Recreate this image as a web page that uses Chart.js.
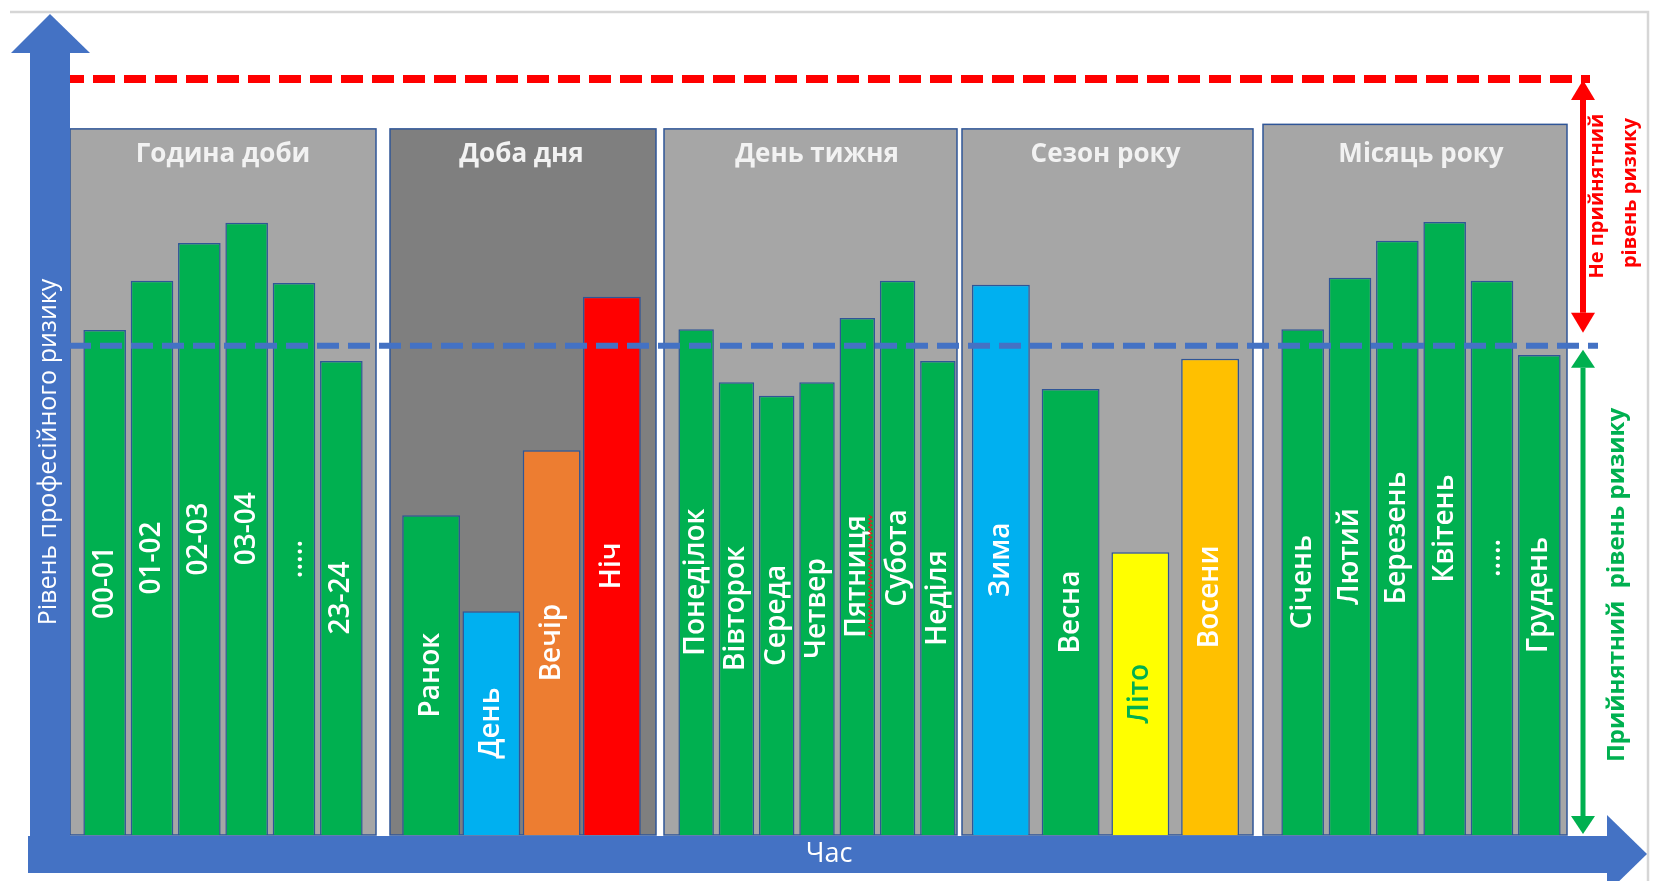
<!DOCTYPE html>
<html lang="uk">
<head>
<meta charset="utf-8">
<title>Рівень професійного ризику</title>
<script src="https://cdn.jsdelivr.net/npm/chart.js@4.4.1/dist/chart.umd.min.js"></script>
<style>
  html, body { margin: 0; padding: 0; background: #fff; }
  canvas { display: block; }
</style>
</head>
<body>
<canvas id="risk-chart" width="1653" height="881"></canvas>
<script>
// Categories, one list per panel
const hourLabels = ['00-01', '01-02', '02-03', '03-04', '.....', '23-24'];
const dayPartLabels = ['Ранок', 'День', 'Вечір', 'Ніч'];
const weekdayLabels = ['Понеділок', 'Вівторок', 'Середа', 'Четвер', 'Пятниця', 'Субота', 'Неділя'];
const seasonLabels = ['Зима', 'Весна', 'Літо', 'Восени'];
const monthLabels = ['Січень', 'Лютий', 'Березень', 'Квітень', '.....', 'Грудень'];

// Risk level for each category
const hourValues = [66.8, 73.3, 78.3, 81.0, 73.0, 62.7];
const dayPartValues = [42.3, 29.6, 50.9, 71.2];
const weekdayValues = [66.9, 59.9, 58.1, 59.9, 68.4, 73.3, 62.7];
const seasonValues = [72.8, 59.0, 37.4, 63.0];
const monthValues = [66.9, 73.7, 78.6, 81.1, 73.3, 63.5];

const panelTitles = ['Година доби', 'Доба дня', 'День тижня', 'Сезон року', 'Місяць року'];
const panelTops = [93.4, 93.4, 93.4, 93.4, 94.0];

// Thresholds
const acceptableLevel = 64.7;
const unacceptableLevel = 100;

// ---- styles ----
const GREEN = '#00B050';
const BLUE = '#4472C4';
const EDGE = '#2F5597';
const FONT = '"Open Sans", "Noto Sans", sans-serif';

const dayPartColors = [GREEN, '#00B0F0', '#ED7D31', '#FF0000'];
const seasonColors = ['#00B0F0', GREEN, '#FFFF00', '#FFC000'];
const seasonTextColors = ['#fff', '#fff', GREEN, '#fff'];

// frame = grey panel, band = where the category axis of that panel lives
const panels = [
  { id: 'x0', labels: hourLabels, values: hourValues, colors: GREEN, fill: '#A6A6A6', frame: [70, 376], band: [81, 365], barPct: 0.9 },
  { id: 'x1', labels: dayPartLabels, values: dayPartValues, colors: dayPartColors, fill: '#7F7F7F', frame: [390, 656], band: [401, 642], barPct: 0.96 },
  { id: 'x2', labels: weekdayLabels, values: weekdayValues, colors: GREEN, fill: '#A6A6A6', frame: [664, 957], band: [676, 958], barPct: 0.88, misspelt: 4 },
  { id: 'x3', labels: seasonLabels, values: seasonValues, colors: seasonColors, textColors: seasonTextColors, fill: '#A6A6A6', frame: [962, 1253], band: [966, 1245], barPct: 0.83 },
  { id: 'x4', labels: monthLabels, values: monthValues, colors: GREEN, fill: '#A6A6A6', frame: [1263, 1567], band: [1279, 1563], barPct: 0.9 },
];

function rotatedText(ctx, text, x, y, font, color) {
  ctx.save();
  ctx.translate(x, y);
  ctx.rotate(-Math.PI / 2);
  ctx.font = font;
  ctx.fillStyle = color;
  ctx.textAlign = 'center';
  ctx.textBaseline = 'middle';
  ctx.fillText(text, 0, 0);
  const w = ctx.measureText(text).width;
  ctx.restore();
  return w;
}

// red spell-check wave along a vertical caption
function squiggle(ctx, x, yFrom, yTo) {
  ctx.save();
  ctx.strokeStyle = '#E02020';
  ctx.lineWidth = 1.2;
  ctx.beginPath();
  let k = 0;
  for (let yy = yFrom; yy <= yTo; yy += 2, k++) {
    const xx = x + (k % 2 ? 1.5 : -1.5);
    if (k === 0) ctx.moveTo(xx, yy); else ctx.lineTo(xx, yy);
  }
  ctx.stroke();
  ctx.restore();
}

function dashedLine(ctx, x1, x2, y, color, width) {
  ctx.save();
  ctx.strokeStyle = color;
  ctx.lineWidth = width;
  ctx.setLineDash([22, 9]);
  ctx.beginPath();
  ctx.moveTo(x1, y);
  ctx.lineTo(x2, y);
  ctx.stroke();
  ctx.restore();
}

function doubleArrow(ctx, x, y1, y2, color, width, half, len) {
  ctx.save();
  ctx.strokeStyle = color;
  ctx.fillStyle = color;
  ctx.lineWidth = width;
  ctx.beginPath();
  ctx.moveTo(x, y1 + len);
  ctx.lineTo(x, y2 - len);
  ctx.stroke();
  ctx.beginPath();
  ctx.moveTo(x, y1);
  ctx.lineTo(x - half, y1 + len);
  ctx.lineTo(x + half, y1 + len);
  ctx.closePath();
  ctx.fill();
  ctx.beginPath();
  ctx.moveTo(x, y2);
  ctx.lineTo(x - half, y2 - len);
  ctx.lineTo(x + half, y2 - len);
  ctx.closePath();
  ctx.fill();
  ctx.restore();
}

// Puts each panel's x axis side by side inside the plot
const panelAxes = {
  id: 'panelAxes',
  afterLayout(chart) {
    panels.forEach(p => {
      const s = chart.scales[p.id];
      s.left = p.band[0];
      s.right = p.band[1];
      s.width = s.right - s.left;
      s.configure();
    });
  }
};

// Grey panels behind the bars, with their headings
const panelBackdrop = {
  id: 'panelBackdrop',
  beforeDatasetsDraw(chart) {
    const { ctx, scales: { y } } = chart;
    const base = y.getPixelForValue(0);
    const titleY = y.getPixelForValue(panelTops[0]) + 33;
    panels.forEach((p, i) => {
      const top = y.getPixelForValue(panelTops[i]);
      const [l, r] = p.frame;
      ctx.save();
      ctx.fillStyle = p.fill;
      ctx.fillRect(l, top, r - l, base - top);
      ctx.strokeStyle = EDGE;
      ctx.lineWidth = 1.5;
      ctx.strokeRect(l, top, r - l, base - top);
      const s = chart.scales[p.id];
      ctx.font = 'bold 26px ' + FONT;
      ctx.fillStyle = '#F2F2F2';
      ctx.textAlign = 'center';
      ctx.textBaseline = 'alphabetic';
      ctx.fillText(panelTitles[i], (s.left + s.right) / 2, titleY);
      ctx.restore();
    });
  }
};

// Bar captions, thresholds, axes arrows and side notes
const overlay = {
  id: 'overlay',
  afterDatasetsDraw(chart) {
    const { ctx, scales: { y } } = chart;

    panels.forEach((p, i) => {
      chart.getDatasetMeta(i).data.forEach((bar, j) => {
        const { x, y: top, base } = bar.getProps(['x', 'y', 'base'], true);
        const color = p.textColors ? p.textColors[j] : '#fff';
        const mid = (top + base) / 2;
        const w = rotatedText(ctx, p.labels[j], x, mid, '600 28px ' + FONT, color);
        if (p.misspelt === j) squiggle(ctx, x + 13, mid - w / 2, mid + w / 2);
      });
    });

    const yOk = y.getPixelForValue(acceptableLevel);
    const yBad = y.getPixelForValue(unacceptableLevel);
    const y0 = y.getPixelForValue(0);

    dashedLine(ctx, 69, 1598, yOk, BLUE, 6);
    dashedLine(ctx, 62, 1590, yBad, '#FF0000', 8);

    // outer frame
    ctx.save();
    ctx.strokeStyle = '#D6D6D6';
    ctx.lineWidth = 2.5;
    ctx.beginPath();
    ctx.moveTo(10, 12);
    ctx.lineTo(1648, 12);
    ctx.lineTo(1648, 881);
    ctx.stroke();
    ctx.restore();

    // time axis (horizontal arrow)
    ctx.save();
    ctx.fillStyle = BLUE;
    ctx.fillRect(28, y0 + 1, 1607 - 28, 37);
    ctx.beginPath();
    ctx.moveTo(1607, y0 - 20);
    ctx.lineTo(1647, y0 + 19);
    ctx.lineTo(1607, y0 + 58);
    ctx.closePath();
    ctx.fill();
    // risk axis (vertical arrow)
    ctx.fillRect(30, 53, 40, y0 + 38 - 53);
    ctx.beginPath();
    ctx.moveTo(11, 53);
    ctx.lineTo(50, 14);
    ctx.lineTo(90, 53);
    ctx.closePath();
    ctx.fill();

    ctx.font = '27px ' + FONT;
    ctx.fillStyle = '#fff';
    ctx.textAlign = 'center';
    ctx.textBaseline = 'middle';
    ctx.fillText('Час', 829, y0 + 19);
    ctx.restore();
    rotatedText(ctx, 'Рівень професійного ризику', 49, 452, '25px ' + FONT, '#fff');

    // risk zones on the right
    doubleArrow(ctx, 1583, yBad + 1, yOk - 13, '#FF0000', 6, 12, 20);
    doubleArrow(ctx, 1583, yOk + 4, y0 - 1, GREEN, 5, 12, 18);
    rotatedText(ctx, 'Не прийнятний', 1597, 196, 'bold 20px ' + FONT, '#FF0000');
    rotatedText(ctx, 'рівень ризику', 1630, 193, 'bold 20px ' + FONT, '#FF0000');
    rotatedText(ctx, 'Прийнятний  рівень ризику', 1617, 585, 'bold 24px ' + FONT, GREEN);
  }
};

const scales = { y: { type: 'linear', min: 0, max: 110, display: false } };
panels.forEach(p => {
  scales[p.id] = { type: 'category', labels: p.labels, offset: true, display: false };
});

new Chart(document.getElementById('risk-chart'), {
  type: 'bar',
  data: {
    datasets: panels.map((p, i) => ({
      label: panelTitles[i],
      data: p.values,
      xAxisID: p.id,
      yAxisID: 'y',
      backgroundColor: p.colors,
      borderColor: EDGE,
      borderWidth: 1.5,
      borderSkipped: 'bottom',
      grouped: false,
      categoryPercentage: 1,
      barPercentage: p.barPct,
    })),
  },
  options: {
    responsive: false,
    animation: false,
    devicePixelRatio: 1,
    layout: { padding: { left: 70, right: 86, top: 3.4, bottom: 46 } },
    scales,
    plugins: { legend: { display: false }, tooltip: { enabled: false } },
  },
  plugins: [panelAxes, panelBackdrop, overlay],
});
</script>
</body>
</html>
